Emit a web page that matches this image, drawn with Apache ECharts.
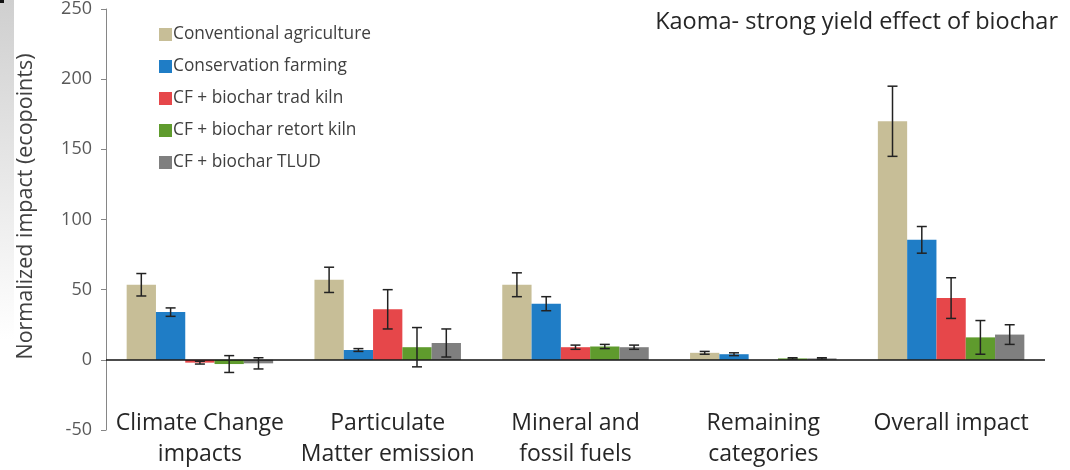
<!DOCTYPE html>
<html>
<head>
<meta charset="utf-8">
<script src="https://cdn.jsdelivr.net/npm/echarts@6/dist/echarts.min.js"></script>
<style>
  html, body { margin: 0; padding: 0; background: #fff; }
  #chart { width: 1070px; height: 470px; }
</style>
</head>
<body>
<div id="chart"></div>
<script>
// Impact categories (x axis)
const categories = [
  'Climate Change\nimpacts',
  'Particulate\nMatter emission',
  'Mineral and\nfossil fuels',
  'Remaining\ncategories',
  'Overall impact'
];

// Scenario names
const seriesNames = [
  'Conventional agriculture',
  'Conservation farming',
  'CF + biochar trad kiln',
  'CF + biochar retort kiln',
  'CF + biochar TLUD'
];

// Mean normalized impact (ecopoints) per scenario
const conventional = [53.5, 57, 53.5, 5, 170];
const conservation = [34, 7, 40, 4, 85.5];
const tradKiln     = [-2, 36, 9, 0, 44];
const retortKiln   = [-3, 9, 9.5, 1, 16];
const tlud         = [-2.5, 12, 9, 1, 18];

// Error bar half-widths (ecopoints)
const conventionalErr = [8, 9, 8.5, 1, 25];
const conservationErr = [3, 1, 5, 1, 9.5];
const tradKilnErr     = [1, 14, 1.5, 0, 14.5];
const retortKilnErr   = [6, 14, 1.5, 0.5, 12];
const tludErr         = [4, 10, 1.5, 0.5, 7];

// Y axis ticks
const yMin = -50, yMax = 250, yStep = 50;

const colors = ['#C7BE97', '#1F7DC6', '#E6474A', '#5F9B2D', '#7F7F7F'];
const values = [conventional, conservation, tradKiln, retortKiln, tlud];
const errors = [conventionalErr, conservationErr, tradKilnErr, retortKilnErr, tludErr];

const CAT_GAP = 0.22;
const N = values.length;
const FONT = '"Open Sans", Lato, sans-serif';

const chart = echarts.init(document.getElementById('chart'), null, { renderer: 'canvas' });

const barSeries = values.map((vals, k) => ({
  name: seriesNames[k],
  type: 'bar',
  data: vals,
  barGap: '0%',
  barCategoryGap: (CAT_GAP * 100) + '%',
  itemStyle: { color: colors[k] },
  emphasis: { disabled: true },
  z: 2,
  markLine: k === 0 ? {
    silent: true,
    symbol: 'none',
    label: { show: false },
    lineStyle: { color: '#111', width: 1.5, type: 'solid' },
    data: [{ yAxis: 0 }],
    z: 5
  } : undefined
}));

// Error bars drawn over each bar, offset to that bar's slot in the group
const errSeries = values.map((vals, k) => ({
  name: seriesNames[k] + ' error',
  type: 'custom',
  data: vals.map((v, i) => [i, v - errors[k][i], v + errors[k][i], errors[k][i]]),
  z: 6,
  silent: true,
  renderItem: function (params, api) {
    const cat = api.value(0);
    const lo = api.value(1), hi = api.value(2), e = api.value(3);
    if (!(e > 0)) return null;
    const band = api.size([1, 0])[0];
    const bw = band * (1 - CAT_GAP) / N;
    const cx = api.coord([cat, 0])[0] + (k - (N - 1) / 2) * bw;
    const yLo = api.coord([cat, lo])[1];
    const yHi = api.coord([cat, hi])[1];
    const cap = 5;
    const style = { stroke: '#222', lineWidth: 1.5 };
    return {
      type: 'group',
      children: [
        { type: 'line', shape: { x1: cx, y1: yLo, x2: cx, y2: yHi }, style },
        { type: 'line', shape: { x1: cx - cap, y1: yHi, x2: cx + cap, y2: yHi }, style },
        { type: 'line', shape: { x1: cx - cap, y1: yLo, x2: cx + cap, y2: yLo }, style }
      ]
    };
  }
}));

chart.setOption({
  animation: false,
  backgroundColor: '#fff',
  textStyle: { fontFamily: FONT },
  graphic: [
    {
      type: 'rect',
      left: 0, top: 0,
      shape: { width: 14, height: 340 },
      style: {
        fill: new echarts.graphic.LinearGradient(0, 0, 0, 1, [
          { offset: 0, color: '#cfcfcf' },
          { offset: 1, color: '#ffffff' }
        ])
      },
      z: -1
    },
    {
      type: 'rect',
      left: 0, top: 0,
      shape: { width: 4, height: 3 },
      style: { fill: '#111' },
      z: -1
    }
  ],
  title: {
    text: 'Kaoma- strong yield effect of biochar',
    right: 7,
    top: 5,
    textStyle: { fontFamily: FONT, fontSize: 23.5, fontWeight: 'normal', color: '#262626' }
  },
  legend: {
    orient: 'vertical',
    left: 154,
    top: 21,
    data: seriesNames,
    itemWidth: 13,
    itemHeight: 13,
    itemGap: 15,
    icon: 'rect',
    textStyle: { fontFamily: FONT, fontSize: 17.3, color: '#404040', lineHeight: 17, padding: [0, 0, 0, -4] }
  },
  grid: { left: 106, right: 25, top: 6, bottom: 39, containLabel: false },
  xAxis: {
    type: 'category',
    data: categories,
    position: 'bottom',
    axisLine: { show: false, onZero: false },
    axisTick: { show: false },
    splitLine: { show: false },
    axisLabel: {
      margin: -22,
      interval: 0,
      fontFamily: FONT,
      fontSize: 23,
      lineHeight: 31,
      color: '#262626',
      verticalAlign: 'top'
    }
  },
  yAxis: {
    type: 'value',
    min: yMin,
    max: yMax,
    interval: yStep,
    name: 'Normalized impact (ecopoints)',
    nameLocation: 'middle',
    nameGap: 69,
    nameTextStyle: { fontFamily: FONT, fontSize: 21.5, color: '#404040', padding: [0, 0, 0, 26] },
    axisLine: { show: true, lineStyle: { color: '#868686', width: 1 } },
    axisTick: { show: true, length: 5, lineStyle: { color: '#868686' } },
    splitLine: { show: false },
    axisLabel: { fontFamily: FONT, fontSize: 18, color: '#595959', margin: 14 }
  },
  series: [...barSeries, ...errSeries]
});
</script>
</body>
</html>
